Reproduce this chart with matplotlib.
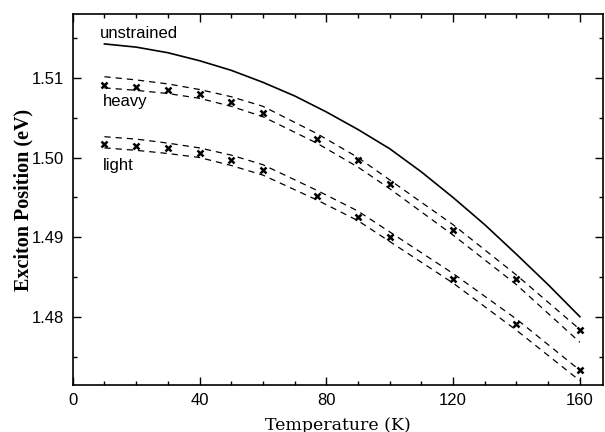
import numpy as np
import matplotlib
matplotlib.use("Agg")
import matplotlib.pyplot as plt
from matplotlib.ticker import MultipleLocator

# Data ------------------------------------------------------------------
T_pts = [10, 20, 30, 40, 50, 60, 77, 90, 100, 120, 140, 160]

heavy = [1.5091, 1.50885, 1.5085, 1.5079, 1.5069, 1.5056,
         1.5023, 1.4997, 1.4967, 1.4909, 1.4848, 1.4784]
light = [1.5017, 1.50148, 1.50123, 1.5006, 1.4997, 1.49844,
         1.4952, 1.4926, 1.4901, 1.4848, 1.47915, 1.47344]

# dashed fit curves bracketing each data set
heavy_up = [1.5101, 1.5097, 1.5092, 1.5085, 1.5076, 1.5064,
            1.5030, 1.5000, 1.4972, 1.4916, 1.4853, 1.4785]
heavy_lo = [1.5087, 1.5084, 1.5080, 1.5074, 1.5064, 1.5051,
            1.5018, 1.4988, 1.4961, 1.4903, 1.4841, 1.4769]
light_up = [1.5026, 1.5023, 1.5018, 1.5012, 1.5003, 1.4991,
            1.4959, 1.4933, 1.4907, 1.4855, 1.4798, 1.4734]
light_lo = [1.5012, 1.5009, 1.5005, 1.5000, 1.4990, 1.4978,
            1.4947, 1.4921, 1.4895, 1.4843, 1.4784, 1.4721]

# unstrained (solid) curve
T_un = [10, 20, 30, 40, 50, 60, 70, 80, 90, 100, 110, 120, 130, 140, 150, 160]
unstrained = [1.5142, 1.5138, 1.5131, 1.5121, 1.5109, 1.5094, 1.5077, 1.5057,
              1.5035, 1.5011, 1.4982, 1.4950, 1.4916, 1.4879, 1.4841, 1.4801]

x_ticks = [0, 40, 80, 120, 160]
y_ticks = [1.48, 1.49, 1.50, 1.51]

# Plot ------------------------------------------------------------------
plt.rcParams['font.family'] = ['Liberation Sans', 'DejaVu Sans']
fig = plt.figure(figsize=(6.05, 4.32), dpi=100)
ax = fig.add_axes([0.1202, 0.1088, 0.8765, 0.8588])

ax.plot(T_un, unstrained, color='black', lw=1.2)
dash = dict(color='black', lw=0.9, linestyle=(0, (5, 4)))
for curve in (heavy_up, heavy_lo, light_up, light_lo):
    ax.plot(T_pts, curve, **dash)
ax.plot(T_pts, heavy, 'x', color='black', ms=5, mew=1.8)
ax.plot(T_pts, light, 'x', color='black', ms=5, mew=1.8)

ax.text(8.6, 1.51556, 'unstrained', fontsize=12, va='center')
ax.text(9.6, 1.50697, 'heavy', fontsize=12, va='center')
ax.text(9.6, 1.49906, 'light', fontsize=12, va='center')

ax.set_xlim(0, 167.3)
ax.set_ylim(1.47156, 1.51794)
ax.set_xticks(x_ticks)
ax.set_xticklabels([str(t) for t in x_ticks])
ax.set_yticks(y_ticks)
ax.set_yticklabels(['%.2f' % v for v in y_ticks])
ax.xaxis.set_minor_locator(MultipleLocator(10))
ax.yaxis.set_minor_locator(MultipleLocator(0.005))
ax.tick_params(which='both', direction='in', top=True, right=True,
               labelsize=12, width=1)
ax.tick_params(which='major', length=6, pad=6)
ax.tick_params(which='minor', length=3)
for s in ax.spines.values():
    s.set_linewidth(1.2)

ax.set_xlabel('Temperature (K)', family='DejaVu Serif', fontsize=12.5)
ax.xaxis.set_label_coords(0.5, -0.085)
ax.set_ylabel('Exciton Position (eV)', family='Liberation Serif',
              fontweight='bold', fontsize=14.5)
ax.yaxis.set_label_coords(-0.074, 0.5)

fig.savefig('out.png', dpi=100)
